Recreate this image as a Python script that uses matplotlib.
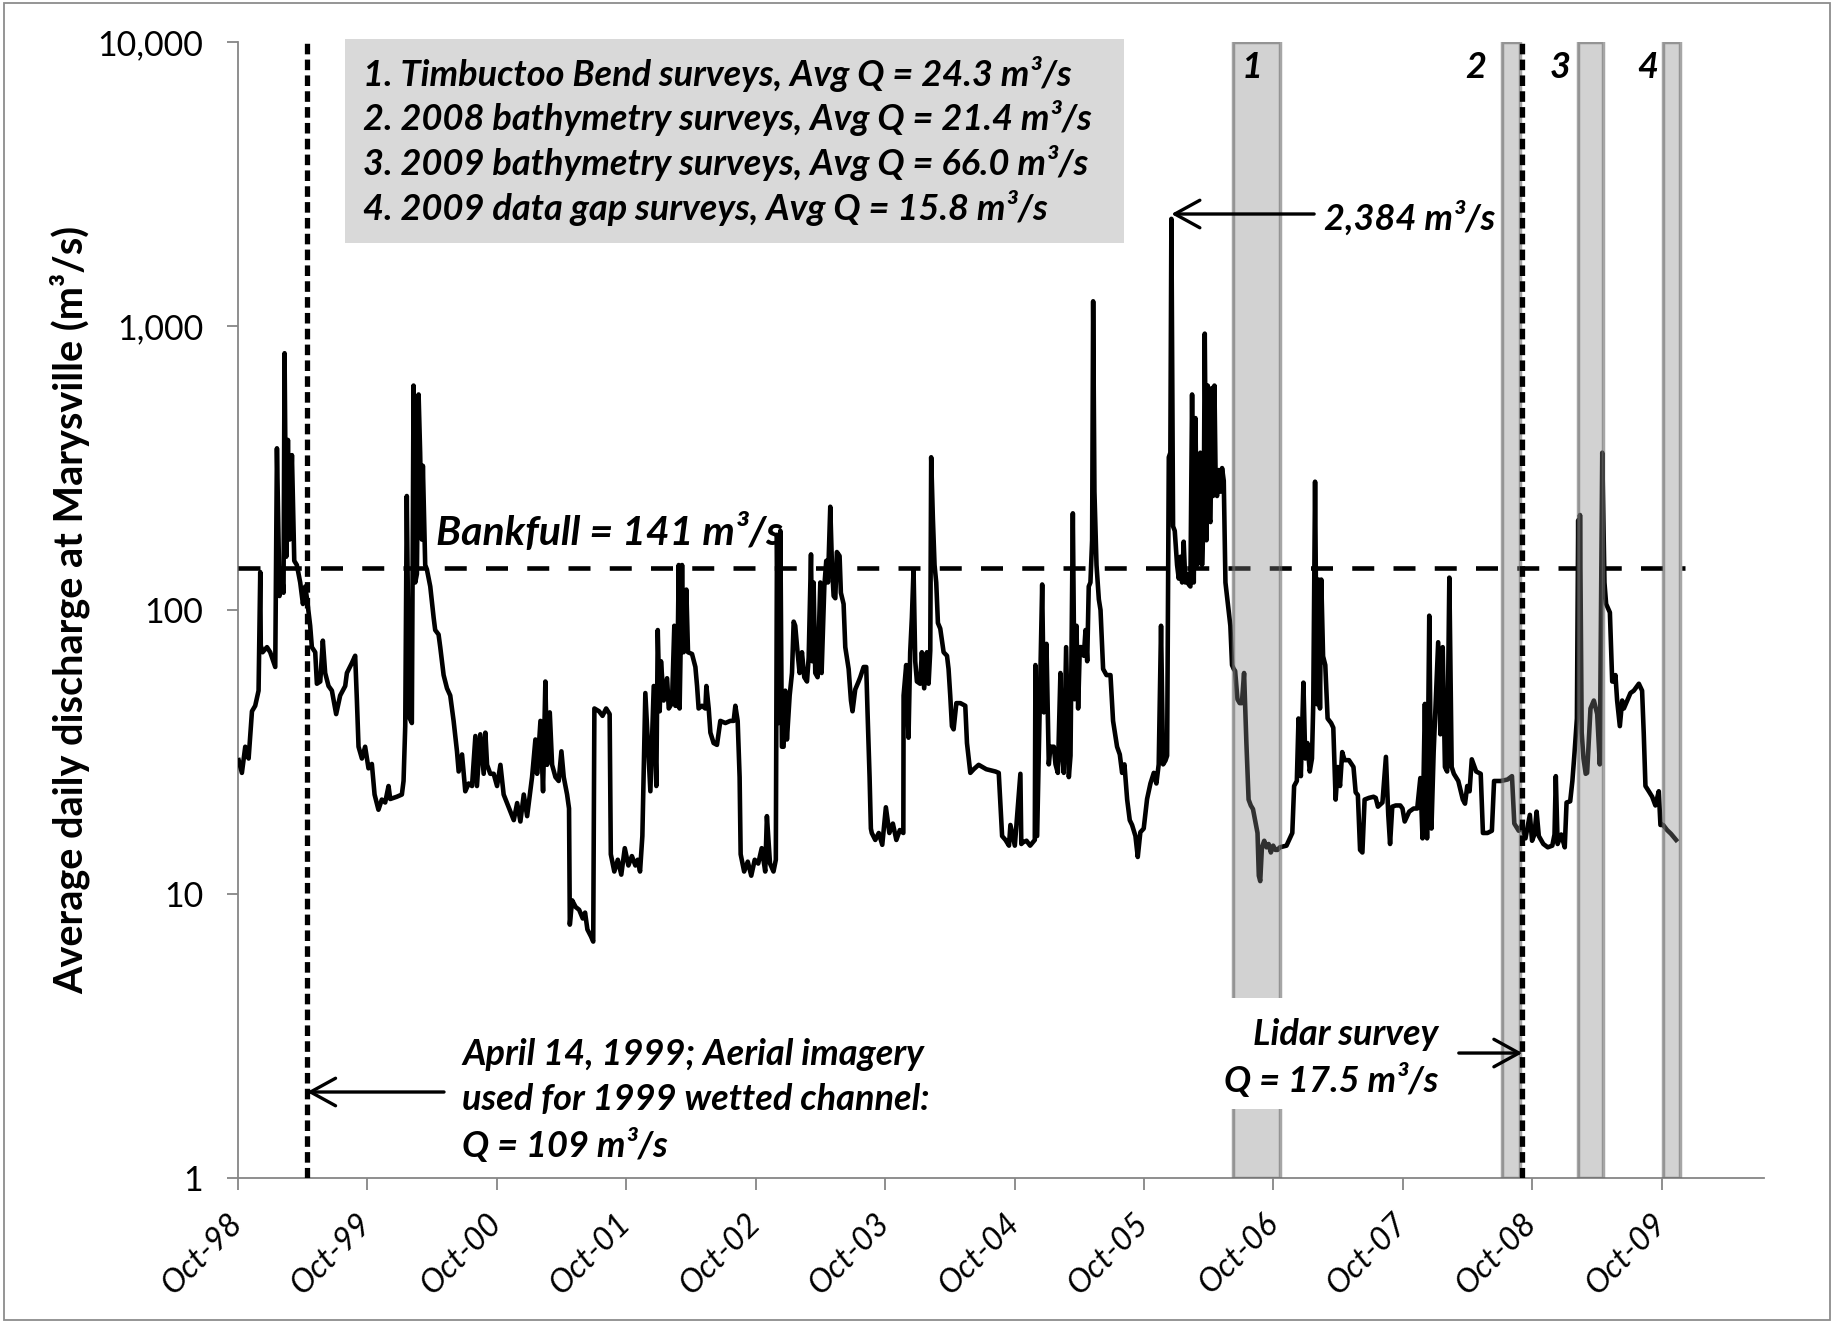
import numpy as np
import pandas as pd
import matplotlib
matplotlib.use("Agg")
import matplotlib.pyplot as plt
from matplotlib.patches import Rectangle
from matplotlib.transforms import ScaledTranslation
from datetime import datetime

plt.rcParams['font.family'] = ['Lato', 'DejaVu Sans']

# Average daily discharge at Marysville (m3/s), as (decimal year, discharge)
flow_year = [
    1998.753, 1998.778, 1998.804, 1998.830, 1998.856, 1998.881, 1998.907, 1998.920, 1998.924, 1998.938,
    1998.972, 1998.997, 1999.036, 1999.049, 1999.069, 1999.087, 1999.100, 1999.108, 1999.121, 1999.134,
    1999.147, 1999.165, 1999.183, 1999.203, 1999.229, 1999.250, 1999.268, 1999.282, 1999.306, 1999.319,
    1999.345, 1999.358, 1999.384, 1999.404, 1999.422, 1999.448, 1999.474, 1999.507, 1999.538, 1999.577,
    1999.590, 1999.628, 1999.654, 1999.667, 1999.680, 1999.706, 1999.731, 1999.757, 1999.783, 1999.804,
    1999.834, 1999.860, 1999.886, 1999.912, 1999.925, 1999.976, 2000.015, 2000.028, 2000.041, 2000.053,
    2000.071, 2000.092, 2000.105, 2000.118, 2000.131, 2000.144, 2000.156, 2000.169, 2000.177, 2000.195,
    2000.208, 2000.234, 2000.260, 2000.272, 2000.298, 2000.311, 2000.337, 2000.363, 2000.388, 2000.401,
    2000.414, 2000.440, 2000.453, 2000.479, 2000.504, 2000.530, 2000.556, 2000.582, 2000.594, 2000.620,
    2000.646, 2000.659, 2000.672, 2000.697, 2000.723, 2000.749, 2000.775, 2000.800, 2000.826, 2000.852,
    2000.878, 2000.904, 2000.929, 2000.955, 2000.981, 2001.019, 2001.045, 2001.058, 2001.084, 2001.104,
    2001.122, 2001.135, 2001.156, 2001.174, 2001.200, 2001.225, 2001.246, 2001.264, 2001.290, 2001.305,
    2001.311, 2001.329, 2001.356, 2001.383, 2001.411, 2001.429, 2001.447, 2001.474, 2001.492, 2001.501,
    2001.537, 2001.564, 2001.592, 2001.619, 2001.628, 2001.655, 2001.682, 2001.709, 2001.736, 2001.764,
    2001.791, 2001.818, 2001.836, 2001.854, 2001.872, 2001.895, 2001.934, 2001.960, 2001.980, 2001.991,
    2002.006, 2002.016, 2002.037, 2002.063, 2002.076, 2002.101, 2002.119, 2002.127, 2002.140, 2002.153,
    2002.160, 2002.179, 2002.191, 2002.212, 2002.225, 2002.256, 2002.282, 2002.295, 2002.307, 2002.333,
    2002.359, 2002.367, 2002.385, 2002.398, 2002.423, 2002.449, 2002.475, 2002.514, 2002.552, 2002.578,
    2002.591, 2002.609, 2002.624, 2002.632, 2002.659, 2002.687, 2002.714, 2002.741, 2002.768, 2002.795,
    2002.822, 2002.835, 2002.859, 2002.886, 2002.904, 2002.913, 2002.926, 2002.939, 2002.951, 2002.964,
    2002.977, 2002.990, 2003.011, 2003.029, 2003.042, 2003.054, 2003.072, 2003.088, 2003.106, 2003.124,
    2003.145, 2003.158, 2003.176, 2003.186, 2003.196, 2003.209, 2003.227, 2003.248, 2003.258, 2003.279,
    2003.294, 2003.307, 2003.325, 2003.338, 2003.351, 2003.364, 2003.376, 2003.397, 2003.407, 2003.428,
    2003.441, 2003.467, 2003.485, 2003.497, 2003.518, 2003.544, 2003.557, 2003.583, 2003.603, 2003.613,
    2003.629, 2003.639, 2003.646, 2003.673, 2003.700, 2003.727, 2003.755, 2003.782, 2003.809, 2003.836,
    2003.863, 2003.890, 2003.892, 2003.912, 2003.930, 2003.943, 2003.956, 2003.969, 2003.982, 2003.995,
    2004.020, 2004.033, 2004.051, 2004.072, 2004.085, 2004.098, 2004.105, 2004.118, 2004.131, 2004.144,
    2004.157, 2004.175, 2004.201, 2004.227, 2004.239, 2004.252, 2004.265, 2004.278, 2004.299, 2004.330,
    2004.368, 2004.381, 2004.407, 2004.433, 2004.471, 2004.530, 2004.600, 2004.626, 2004.652, 2004.678,
    2004.705, 2004.716, 2004.750, 2004.793, 2004.800, 2004.813, 2004.840, 2004.868, 2004.904, 2004.909,
    2004.922, 2004.961, 2004.974, 2004.994, 2005.012, 2005.025, 2005.051, 2005.064, 2005.082, 2005.102,
    2005.115, 2005.128, 2005.146, 2005.167, 2005.180, 2005.198, 2005.211, 2005.226, 2005.239, 2005.252,
    2005.265, 2005.283, 2005.296, 2005.309, 2005.321, 2005.334, 2005.347, 2005.355, 2005.365, 2005.381,
    2005.399, 2005.412, 2005.432, 2005.458, 2005.489, 2005.509, 2005.540, 2005.561, 2005.579, 2005.597,
    2005.618, 2005.638, 2005.656, 2005.682, 2005.700, 2005.720, 2005.746, 2005.772, 2005.798, 2005.824,
    2005.844, 2005.862, 2005.880, 2005.896, 2005.914, 2005.927, 2005.940, 2005.952, 2005.960, 2005.973,
    2005.986, 2006.004, 2006.017, 2006.030, 2006.043, 2006.055, 2006.068, 2006.081, 2006.094, 2006.107,
    2006.120, 2006.133, 2006.146, 2006.159, 2006.171, 2006.184, 2006.197, 2006.210, 2006.218, 2006.231,
    2006.241, 2006.251, 2006.262, 2006.274, 2006.282, 2006.293, 2006.303, 2006.313, 2006.326, 2006.339,
    2006.352, 2006.365, 2006.378, 2006.390, 2006.403, 2006.416, 2006.429, 2006.442, 2006.453, 2006.471,
    2006.488, 2006.505, 2006.522, 2006.540, 2006.557, 2006.574, 2006.591, 2006.609, 2006.626, 2006.636,
    2006.647, 2006.660, 2006.678, 2006.695, 2006.712, 2006.729, 2006.747, 2006.764, 2006.781, 2006.798,
    2006.850, 2006.895, 2006.909, 2006.930, 2006.943, 2006.961, 2006.981, 2006.995, 2007.012, 2007.030,
    2007.047, 2007.057, 2007.071, 2007.085, 2007.098, 2007.109, 2007.119, 2007.133, 2007.150, 2007.168,
    2007.195, 2007.212, 2007.230, 2007.247, 2007.264, 2007.281, 2007.299, 2007.333, 2007.368, 2007.385,
    2007.402, 2007.419, 2007.437, 2007.454, 2007.488, 2007.523, 2007.540, 2007.557, 2007.592, 2007.619,
    2007.637, 2007.651, 2007.668, 2007.695, 2007.730, 2007.747, 2007.764, 2007.799, 2007.833, 2007.861,
    2007.885, 2007.902, 2007.920, 2007.937, 2007.954, 2007.971, 2007.988, 2008.023, 2008.040, 2008.058,
    2008.075, 2008.092, 2008.109, 2008.127, 2008.144, 2008.178, 2008.213, 2008.230, 2008.247, 2008.265,
    2008.282, 2008.316, 2008.351, 2008.368, 2008.403, 2008.437, 2008.454, 2008.506, 2008.558, 2008.592,
    2008.610, 2008.644, 2008.668, 2008.696, 2008.730, 2008.747, 2008.765, 2008.782, 2008.799, 2008.834,
    2008.868, 2008.903, 2008.920, 2008.930, 2008.944, 2008.972, 2008.999, 2009.013, 2009.041, 2009.058,
    2009.075, 2009.093, 2009.103, 2009.110, 2009.117, 2009.130, 2009.144, 2009.161, 2009.172, 2009.198,
    2009.224, 2009.250, 2009.270, 2009.289, 2009.306, 2009.319, 2009.348, 2009.366, 2009.379, 2009.391,
    2009.404, 2009.425, 2009.443, 2009.456, 2009.482, 2009.507, 2009.533, 2009.572, 2009.597, 2009.610,
    2009.623, 2009.649, 2009.675, 2009.700, 2009.726, 2009.739, 2009.760, 2009.790, 2009.820, 2009.860,
]
flow_q = [
    29.6, 26.7, 33, 30, 44, 46, 52, 136, 75, 71,
    74, 71, 63, 371, 112, 134, 115, 802, 154, 397,
    177, 351, 149, 144, 125, 105, 121, 109, 88, 74,
    71, 55, 56, 78, 60, 54, 52, 43, 50, 54,
    60, 65, 69, 48.5, 33, 30, 33, 27.7, 28.7, 22.4,
    19.8, 21.5, 21, 24, 21.6, 22, 22.4, 25, 39, 252,
    42, 40, 617, 125, 134, 574, 358, 177, 322, 144,
    139, 121, 94, 85, 82, 74, 59, 53, 50, 45,
    40.7, 31.8, 27, 31, 23, 24.5, 24, 36, 24, 36.5,
    26.5, 37, 28.5, 26.5, 26.5, 24, 28.5, 22.4, 20.9, 19.5,
    18.2, 20.9, 18, 22.4, 18.8, 25.8, 35, 26.5, 40.7, 23,
    56, 28.5, 43.6, 28.5, 25.8, 25, 31.8, 25.8, 22.4, 20,
    7.8, 9.5, 9.0, 8.8, 8.2, 8.6, 7.5, 7.1, 6.8, 45,
    44, 42.4, 45, 43, 13.8, 12, 13.2, 11.7, 14.5, 12.6,
    13.6, 12.6, 13.2, 12, 16, 51, 23, 54, 24, 85,
    44, 66, 48, 57.5, 45, 47, 88, 46, 46, 144,
    45, 144, 71, 118, 71, 70, 63, 54, 45, 46,
    45, 54, 45, 37, 34, 33.5, 40.7, 40, 40.7, 40.7,
    46, 40.7, 25.8, 13.8, 12, 13, 11.6, 13.2, 12.8, 14.5,
    12, 18.8, 12.8, 12, 13.2, 184, 40, 190, 33, 33,
    52, 35, 50, 60, 91, 88, 71, 60, 71, 58,
    56, 68, 157, 66, 125, 60, 58, 125, 60, 121,
    149, 125, 231, 144, 112, 110, 160, 155, 115, 105,
    74, 62, 48, 44, 52.5, 56, 58, 63, 63, 44,
    25.8, 17, 16.4, 15.5, 16.4, 14.9, 20.2, 16.4, 17.7, 15.5,
    16.8, 16.4, 50, 64, 35.5, 71, 94, 139, 66, 56,
    55, 71, 53, 71, 55, 72, 345, 211, 144, 125,
    90, 86, 71, 69, 62, 50, 39, 38, 47, 47,
    46, 34, 26.7, 27.5, 28.5, 27.5, 27, 26.7, 16, 15.5,
    14.8, 17.5, 14.8, 26.5, 15, 15.2, 15.4, 14.8, 15.5, 64,
    16, 123, 43.6, 76, 28.6, 33, 33, 28.6, 26.7, 60,
    31, 26.7, 74, 25.8, 30.7, 219, 48.5, 88, 45, 74,
    74, 69, 85, 66, 121, 125, 176, 1222, 261, 144,
    109, 100, 62, 59, 59, 40.7, 33, 31, 26.7, 28.6,
    21.5, 18.2, 17.5, 16, 13.5, 16.5, 17, 21.6, 24.5, 26.7,
    24.5, 28.6, 88, 28.6, 29.5, 30.7, 345, 358, 2384, 197,
    190, 144, 129, 154, 125, 174, 125, 134, 123, 121,
    574, 125, 474, 144, 176, 358, 144, 211, 940, 176,
    617, 211, 204, 605, 252, 617, 270, 252, 311, 261,
    316, 285, 125, 112, 100, 88, 64, 62, 61, 48.5,
    47, 47, 60, 34, 21.5, 20.5, 19.9, 18, 16.4, 11.6,
    11.1, 14.6, 15.4, 14.6, 15, 14, 14.8, 14.3, 14.3, 14.6,
    14.8, 16.4, 24, 25, 41.5, 26, 55.5, 30, 34, 27,
    30, 46.6, 283, 46.6, 128, 45, 128, 68.7, 64, 41.5,
    40, 38.5, 21.5, 28, 24, 31.6, 29.6, 29.6, 28, 22.8,
    22.3, 14.3, 14, 21.5, 21.8, 22, 21.8, 20.3, 21, 30.4,
    19, 15, 20.3, 20.5, 20.5, 20, 18, 19.5, 20, 20,
    25.6, 15.7, 46.7, 15.7, 95.5, 17, 31.6, 77, 36.5, 74,
    28, 27, 130, 28, 26.5, 25, 21.5, 20.8, 24, 23,
    29.8, 27, 26.5, 16.4, 16.4, 16.7, 25, 25, 25.3, 26,
    17.7, 16.7, 17.5, 15.7, 19, 15.4, 16.2, 19.5, 16, 15,
    14.6, 14.8, 16.2, 26, 15, 16.2, 14.6, 21, 21.2, 25,
    31.6, 41.5, 207, 60, 216, 37, 30, 26.5, 26.7, 45,
    48, 43, 28.6, 358, 125, 105, 98, 56, 56, 59,
    48, 39, 48, 45, 48, 51, 52, 55, 52, 36.6,
    24, 23, 22, 20.5, 23, 17.5, 17.5, 16.8, 16.3, 15.5,
]

bankfull_q = 141
bankfull_end = 2009.925

survey_ids = ['1', '2', '3', '4']
survey_start = ['2006-06-10', '2008-07-08', '2009-02-06', '2009-10-05']
survey_end = ['2006-10-20', '2008-08-27', '2009-04-20', '2009-11-22']
survey_names = ['Timbuctoo Bend surveys', '2008 bathymetry surveys',
                '2009 bathymetry surveys', '2009 data gap surveys']
survey_avg_q = ['24.3', '21.4', '66.0', '15.8']

aerial_date = '1999-04-14'
aerial_q = 109
lidar_date = '2008-09-03'
lidar_q = 17.5

tick_dates = ['1998-10-01', '1999-10-01', '2000-10-01', '2001-10-01', '2002-10-01', '2003-10-01',
              '2004-10-01', '2005-10-01', '2006-10-01', '2007-10-01', '2008-10-01', '2009-10-01']
tick_labels = ['Oct-98', 'Oct-99', 'Oct-00', 'Oct-01', 'Oct-02', 'Oct-03',
               'Oct-04', 'Oct-05', 'Oct-06', 'Oct-07', 'Oct-08', 'Oct-09']
y_ticks = [1, 10, 100, 1000, 10000]
y_tick_labels = ['1', '10', '100', '1,000', '10,000']


def from_decimal_year(y):
    year = int(y)
    start = datetime(year, 1, 1)
    end = datetime(year + 1, 1, 1)
    return start + (end - start) * (y - year)


dates = [from_decimal_year(y) for y in flow_year]
to_dt = pd.to_datetime

W, H = 1834, 1323
fig = plt.figure(figsize=(W / 100, H / 100), dpi=100)
fig.patch.set_facecolor('white')
# chart-area frame
fig.patches.append(Rectangle((0.002, 0.002), 0.996, 0.996, transform=fig.transFigure,
                             facecolor='none', edgecolor='#8c8c8c', lw=1.3))

L, R, T, B = 238, 1764, 42, 1178
ax = fig.add_axes([L / W, 1 - B / H, (R - L) / W, (B - T) / H])

ax.plot(dates, flow_q, color='black', lw=3.3, solid_joinstyle='round', zorder=3)

ax.set_yscale('log')
ax.set_ylim(1, 10000)
ax.set_xlim(datetime(1998, 10, 1), datetime(2010, 7, 17))
ax.set_yticks(y_ticks)
ax.set_yticklabels(y_tick_labels)
ax.yaxis.set_minor_locator(matplotlib.ticker.NullLocator())
ax.set_xticks(to_dt(tick_dates))
ax.set_xticklabels(tick_labels, rotation=45, ha='right', va='center',
                   rotation_mode='anchor', fontstyle='italic')
shift = ScaledTranslation(5 / 72, 0, fig.dpi_scale_trans)
for lbl in ax.get_xticklabels():
    lbl.set_transform(lbl.get_transform() + shift)

for s in ['top', 'right']:
    ax.spines[s].set_visible(False)
for s in ['left', 'bottom']:
    ax.spines[s].set_color('#868686')
    ax.spines[s].set_linewidth(1.3)

ax.tick_params(axis='y', length=8, width=1.3, color='#868686', pad=17, labelsize=24.5)
ax.tick_params(axis='x', length=8.5, width=1.3, color='#868686', pad=21, labelsize=23.5)

ax.set_ylabel('Average daily discharge at Marysville (m³/s)', fontsize=28.5, fontweight='bold')
ax.yaxis.set_label_coords(-0.110, 0.5)
ax.yaxis.label.set_verticalalignment('center')

TXT = dict(fontweight='bold', fontstyle='italic', zorder=6)

# bankfull line
ax.plot([datetime(1998, 10, 1), from_decimal_year(bankfull_end)], [bankfull_q, bankfull_q],
        color='black', lw=3.3, dashes=(4.8, 4.2), zorder=3)
ax.text(0.1297, 0.5572, f'Bankfull = {bankfull_q} m³/s', transform=ax.transAxes, fontsize=29.5,
        va='baseline', ha='left', **TXT)

# survey windows
for s0, s1 in zip(survey_start, survey_end):
    ax.axvspan(to_dt(s0), to_dt(s1), facecolor=(0.53, 0.53, 0.53, 0.37), edgecolor='none', zorder=4)
    ax.axvspan(to_dt(s0), to_dt(s1), facecolor='none', edgecolor=(0.42, 0.42, 0.42, 0.6),
               lw=2.5, zorder=4)

band_label_x = [0.6645, 0.8113, 0.8663, 0.9240]
for lab, bx in zip(survey_ids, band_label_x):
    ax.text(bx, 0.9683, lab, transform=ax.transAxes, fontsize=26, ha='center', va='baseline', **TXT)

# summary box
ax.add_patch(Rectangle((0.0701, 0.8231), 0.5105, 0.1795, transform=ax.transAxes,
                       facecolor='#d9d9d9', edgecolor='none', clip_on=False, zorder=5))
legend_y = [0.9610, 0.9222, 0.8826, 0.8430]
for lab, name, q, ly in zip(survey_ids, survey_names, survey_avg_q, legend_y):
    ax.text(0.0819, ly, f'{lab}. {name}, Avg Q = {q} m³/s', transform=ax.transAxes,
            fontsize=26, va='baseline', ha='left', **TXT)

# vertical markers
ax.axvline(to_dt(aerial_date), color='black', lw=3.8, dashes=(2.0, 1.0), zorder=5)
ax.axvline(to_dt(lidar_date), color='black', lw=3.8, dashes=(2.0, 1.0), zorder=5)

# peak annotation
ipk = int(np.argmax(flow_q))
arrow = dict(arrowstyle='->,head_length=0.6,head_width=0.33', lw=2.4, color='black',
             shrinkA=0, shrinkB=0, mutation_scale=30)
ax.annotate('', xy=(dates[ipk], flow_q[ipk] * 1.04), xycoords='data',
            xytext=(0.7052, flow_q[ipk] * 1.04), textcoords=('axes fraction', 'data'),
            arrowprops=arrow, zorder=6)
ax.text(0.7117, 0.8345, f'{flow_q[ipk]:,} m³/s', transform=ax.transAxes, fontsize=26,
        va='baseline', ha='left', **TXT)

# aerial imagery note
ax.annotate('', xy=(to_dt(aerial_date), 0.0757), xycoords=('data', 'axes fraction'),
            xytext=(0.135, 0.0757), textcoords='axes fraction', arrowprops=arrow, zorder=6)
aerial_lines = ['April 14, 1999; Aerial imagery', 'used for 1999 wetted channel:',
                f'Q = {aerial_q} m³/s']
for txt, ly in zip(aerial_lines, [0.0995, 0.0599, 0.0185]):
    ax.text(0.1468, ly, txt, transform=ax.transAxes, fontsize=26, va='baseline', ha='left', **TXT)

# lidar note (white backing over the survey window)
ax.add_patch(Rectangle((0.6430, 0.0607), 0.1480, 0.0978, transform=ax.transAxes,
                       facecolor='white', edgecolor='none', zorder=4.5))
ax.annotate('', xy=(to_dt(lidar_date), 0.110), xycoords=('data', 'axes fraction'),
            xytext=(0.800, 0.110), textcoords='axes fraction', arrowprops=arrow, zorder=6)
for txt, ly in zip(['Lidar survey', f'Q = {lidar_q} m³/s'], [0.1171, 0.0757]):
    ax.text(0.7864, ly, txt, transform=ax.transAxes, fontsize=26, va='baseline', ha='right', **TXT)

fig.savefig('out.png', dpi=100)
